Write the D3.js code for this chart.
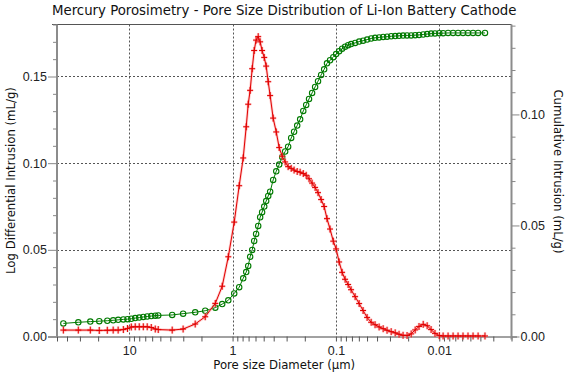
<!DOCTYPE html>
<html><head><meta charset="utf-8">
<script src="https://cdn.jsdelivr.net/npm/d3@7"></script>
<style>
body{margin:0;background:#fff;}
svg{display:block;font-family:"DejaVu Sans Condensed","DejaVu Sans",sans-serif;}
</style></head>
<body><svg id="c" width="574" height="372"></svg>
<script>
// Pore diameters (µm), shared by both series
const diameters = [43.4,31.1,23.8,19.5,16.3,14.3,12.8,11.4,10.4,9.55,8.75,8.0,7.31,6.70,6.12,5.60,5.24,3.84,3.01,2.30,1.84,1.47,1.26,1.10,0.964,0.863,0.789,0.738,0.706,0.676,0.646,0.618,0.592,0.565,0.541,0.518,0.494,0.473,0.452,0.433,0.405,0.378,0.354,0.331,0.310,0.290,0.271,0.254,0.237,0.222,0.207,0.194,0.182,0.170,0.159,0.149,0.139,0.130,0.122,0.114,0.106,0.0995,0.0931,0.0871,0.0815,0.0762,0.0713,0.0652,0.0596,0.0546,0.0499,0.0456,0.0418,0.0382,0.0349,0.0320,0.0292,0.0267,0.0245,0.0224,0.0205,0.0187,0.0171,0.0157,0.0143,0.0131,0.0120,0.0110,0.0100,0.00918,0.00822,0.00735,0.00658,0.00589,0.00527,0.00471,0.00421,0.00361];
// Log differential intrusion (mL/g) – left axis
const logDiff = [0.0037,0.0037,0.0037,0.0035,0.0036,0.0037,0.0037,0.0040,0.0046,0.0055,0.0056,0.0056,0.0056,0.0056,0.0052,0.0043,0.0040,0.0037,0.0043,0.0072,0.0114,0.0191,0.029,0.046,0.066,0.087,0.103,0.121,0.134,0.142,0.1545,0.165,0.171,0.173,0.170,0.165,0.161,0.156,0.147,0.139,0.126,0.118,0.109,0.104,0.1007,0.098,0.097,0.096,0.0952,0.0948,0.094,0.093,0.091,0.0885,0.086,0.083,0.079,0.075,0.068,0.062,0.055,0.0505,0.043,0.037,0.033,0.030,0.027,0.023,0.019,0.015,0.011,0.0082,0.0068,0.0055,0.0045,0.0036,0.0028,0.0021,0.0013,0.0007,0.0006,0.0015,0.0038,0.0058,0.0070,0.0062,0.0040,0.0018,0.0005,0.0003,0.0003,0.0003,0.0003,0.0003,0.0003,0.0003,0.0003,0.0003];
// Cumulative intrusion (mL/g) – right axis
const cumulative = [0.0059,0.0064,0.0067,0.0069,0.0071,0.0073,0.0075,0.0077,0.0078,0.0080,0.0083,0.0085,0.0088,0.0090,0.0092,0.0094,0.0095,0.0097,0.0103,0.0109,0.0116,0.0130,0.0146,0.0163,0.0194,0.0222,0.0262,0.029,0.0318,0.0359,0.039,0.043,0.0462,0.0498,0.0537,0.056,0.0585,0.061,0.0633,0.0652,0.0705,0.0744,0.0774,0.0808,0.0833,0.0855,0.0894,0.0922,0.095,0.0978,0.1016,0.1043,0.107,0.1097,0.1124,0.1150,0.1178,0.1203,0.1230,0.1244,0.1258,0.1272,0.1285,0.1296,0.1305,0.1312,0.1317,0.1322,0.1328,0.1332,0.1337,0.1342,0.1345,0.1347,0.1349,0.1350,0.1352,0.1353,0.1354,0.1355,0.1356,0.1356,0.1357,0.1358,0.1360,0.1362,0.1364,0.1365,0.1366,0.1366,0.1367,0.1367,0.1367,0.1367,0.1367,0.1367,0.1367,0.1367];
const xMajorTicks = [10, 1, 0.1, 0.01];
const xTickLabels = ["10", "1", "0.1", "0.01"];
const leftMajorTicks = [0, 0.05, 0.10, 0.15];
const rightMajorTicks = [0, 0.05, 0.10];
const title = "Mercury Porosimetry - Pore Size Distribution of Li-Ion Battery Cathode";
const xTitle = "Pore size Diameter (µm)";
const yLeftTitle = "Log Differential Intrusion (mL/g)";
const yRightTitle = "Cumulative Intrusion (mL/g)";

const L = 57, R = 511.5, T = 24.5, B = 336.5;
const svg = d3.select("#c");
const x = d3.scaleLog().domain([50, 0.002]).range([L, R]);
const yL = d3.scaleLinear().domain([0, 0.18]).range([B, T]);
const yR = d3.scaleLinear().domain([0, 0.1405]).range([B, T]);

// gridlines
const grid = svg.append("g").attr("stroke", "#555").attr("stroke-width", 1).attr("stroke-dasharray", "2,2");
xMajorTicks.forEach(v => grid.append("line").attr("x1", Math.round(x(v)) + 0.5).attr("x2", Math.round(x(v)) + 0.5).attr("y1", T).attr("y2", B));
leftMajorTicks.filter(v => v > 0).forEach(v => grid.append("line").attr("x1", L).attr("x2", R).attr("y1", Math.round(yL(v)) + 0.5).attr("y2", Math.round(yL(v)) + 0.5));

// top frame
svg.append("line").attr("x1", 52).attr("x2", R).attr("y1", T).attr("y2", T).attr("stroke", "#555").attr("stroke-width", 1.2);

// bottom axis
const xAll = x.ticks().filter(v => v <= 50 && v >= 0.002);
const xAxis = d3.axisBottom(x).tickValues(xAll).tickSize(5).tickFormat(v => {
  const i = xMajorTicks.findIndex(m => Math.abs(m - v) / m < 1e-6);
  return i >= 0 ? xTickLabels[i] : "";
});
const gx = svg.append("g").attr("transform", `translate(0,${B})`).call(xAxis);
gx.select(".domain").attr("d", `M48,0.5H517`).attr("stroke", "#444");
gx.selectAll(".tick line").attr("stroke", "#555");
gx.selectAll(".tick text").attr("fill", "#222").attr("font-size", 12.5).attr("y", 10).attr("font-family", null);

// left axis
const yLticks = d3.range(0, 0.1801, 0.01);
const gl = svg.append("g").attr("transform", `translate(${L},0)`)
  .call(d3.axisLeft(yL).tickValues(yLticks).tickSize(4).tickFormat(v => leftMajorTicks.some(m => Math.abs(m - v) < 1e-6) ? d3.format(".2f")(v) : ""));
gl.select(".domain").attr("d", `M0,${T}V${B}`).attr("stroke", "#8c8c8c").attr("stroke-width", 2);
gl.selectAll(".tick line").attr("stroke", "#888").attr("x2", v => leftMajorTicks.some(m => Math.abs(m - v) < 1e-6) ? -9 : -4);
gl.selectAll(".tick text").attr("fill", "#222").attr("font-size", 12.5).attr("x", -10).attr("font-family", null);

// right axis
const yRticks = d3.range(0, 0.1401, 0.01);
const gr = svg.append("g").attr("transform", `translate(${R},0)`)
  .call(d3.axisRight(yR).tickValues(yRticks).tickSize(4).tickFormat(v => rightMajorTicks.some(m => Math.abs(m - v) < 1e-6) ? d3.format(".2f")(v) : ""));
gr.select(".domain").attr("d", `M0,${T}V${B + 3}`).attr("stroke", "#8c8c8c").attr("stroke-width", 2);
gr.selectAll(".tick line").attr("stroke", "#888").attr("x2", v => rightMajorTicks.some(m => Math.abs(m - v) < 1e-6) ? 8 : 4);
gr.selectAll(".tick text").attr("fill", "#222").attr("font-size", 12.5).attr("x", 9).attr("font-family", null);

// series data
const pts = diameters.map((d, i) => ({d, v: logDiff[i], c: cumulative[i]}));

// green cumulative
const lineG = d3.line().x(p => x(p.d)).y(p => yR(p.c));
svg.append("path").datum(pts).attr("d", lineG).attr("fill", "none").attr("stroke", "#007a00").attr("stroke-width", 1);
svg.append("g").selectAll("circle").data(pts).join("circle")
  .attr("cx", p => x(p.d)).attr("cy", p => yR(p.c)).attr("r", 2.7)
  .attr("fill", "none").attr("stroke", "#007a00").attr("stroke-width", 1.1);

// red log differential
const lineR = d3.line().x(p => x(p.d)).y(p => yL(p.v));
svg.append("path").datum(pts).attr("d", lineR).attr("fill", "none").attr("stroke", "#ff9a9a").attr("stroke-width", 2.6).attr("opacity", 0.5);
const plus = p => { const cx = x(p.d), cy = yL(p.v); return `M${cx - 3},${cy}H${cx + 3}M${cx},${cy - 3.5}V${cy + 3.5}`; };
svg.append("path").attr("d", pts.map(plus).join("")).attr("fill", "none").attr("stroke", "#ff9a9a").attr("stroke-width", 2.6).attr("opacity", 0.5);
svg.append("path").datum(pts).attr("d", lineR).attr("fill", "none").attr("stroke", "#e00000").attr("stroke-width", 1);
svg.append("path").attr("d", pts.map(plus).join("")).attr("fill", "none").attr("stroke", "#e00000").attr("stroke-width", 1);

// titles
svg.append("text").attr("x", (L + R) / 2).attr("y", 15).attr("text-anchor", "middle").attr("font-size", 14.8).attr("fill", "#111").text(title);
svg.append("text").attr("x", (L + R) / 2).attr("y", 369).attr("text-anchor", "middle").attr("font-size", 13).attr("fill", "#111").text(xTitle);
svg.append("text").attr("transform", `translate(15,${(T + B) / 2}) rotate(-90)`).attr("text-anchor", "middle").attr("font-size", 13).attr("fill", "#111").text(yLeftTitle);
svg.append("text").attr("transform", `translate(554,${(T + B) / 2 - 9}) rotate(90)`).attr("text-anchor", "middle").attr("font-size", 13).attr("fill", "#111").text(yRightTitle);
</script></body></html>
